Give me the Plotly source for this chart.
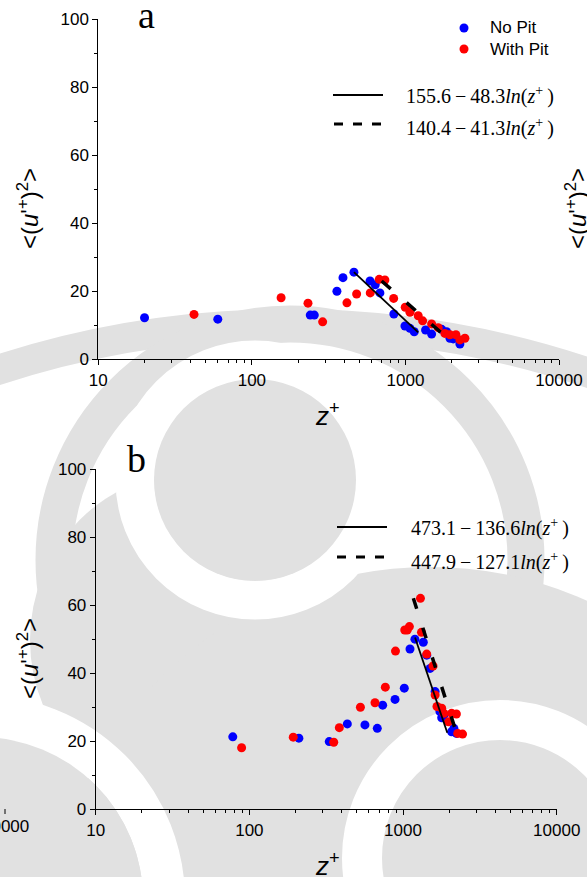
import plotly.graph_objects as go

W, H = 587, 877

# ---------------- data ----------------
a_nopit_x = [20, 60, 240, 255, 358, 392, 462, 588, 636, 682, 841, 993, 1070, 1141, 1352, 1481, 1721, 1854, 1950, 2049, 2263]
a_nopit_y = [12.2, 11.8, 13.0, 13.0, 20.0, 24.0, 25.6, 23.0, 21.9, 19.5, 13.3, 9.8, 9.1, 8.1, 8.6, 7.4, 8.8, 8.1, 6.2, 6.0, 4.5]
a_pit_x = [42, 155, 232, 289, 416, 481, 590, 675, 735, 838, 997, 1070, 1211, 1294, 1481, 1635, 1806, 1950, 2132, 2264, 2439]
a_pit_y = [13.2, 18.1, 16.5, 11.0, 16.6, 19.2, 19.5, 23.5, 23.3, 17.9, 15.3, 13.8, 12.8, 11.3, 10.4, 9.3, 7.6, 7.2, 7.2, 5.7, 6.2]

b_nopit_x = [78, 210, 331, 434, 565, 680, 737, 887, 1019, 1110, 1195, 1355, 1426, 1500, 1617, 1739, 1785, 1844, 2070, 2143, 2224]
b_nopit_y = [21.3, 20.9, 19.9, 25.1, 24.8, 23.8, 30.6, 32.3, 35.6, 47.1, 50.0, 49.1, 45.3, 41.4, 34.6, 28.7, 26.9, 27.7, 22.8, 23.8, 22.3]
b_pit_x = [89, 193, 354, 385, 528, 657, 767, 893, 1026, 1065, 1100, 1298, 1318, 1426, 1567, 1617, 1663, 1785, 1844, 1974, 2070, 2224, 2270, 2440]
b_pit_y = [18.1, 21.2, 19.7, 24.0, 30.0, 31.3, 35.9, 46.5, 52.7, 52.7, 53.7, 62.0, 52.0, 45.6, 42.1, 33.6, 30.2, 29.7, 28.2, 25.7, 28.2, 28.0, 22.3, 22.1]

# fitted lines (end points)
a_fit_solid_x = [462, 1211]
a_fit_solid_y = [25.6, 7.9]
a_fit_dash_x = [700, 1762]
a_fit_dash_y = [23.0, 7.3]
b_fit_solid_x = [1197, 1941]
b_fit_solid_y = [50.5, 22.5]
b_fit_dash_x = [1167, 2178]
b_fit_dash_y = [62.0, 23.8]

TS = "\u2009"
a_eq = ["155.6" + TS + "−" + TS + "48.3<i>ln</i>(<i>z</i><sup>+</sup>" + TS + ")",
        "140.4" + TS + "−" + TS + "41.3<i>ln</i>(<i>z</i><sup>+</sup>" + TS + ")"]
b_eq = ["473.1" + TS + "−" + TS + "136.6<i>ln</i>(<i>z</i><sup>+</sup>" + TS + ")",
        "447.9" + TS + "−" + TS + "127.1<i>ln</i>(<i>z</i><sup>+</sup>" + TS + ")"]
series_names = ["No Pit", "With Pit"]
x_tickvals = [10, 100, 1000, 10000]
x_ticktext = ["10", "100", "1000", "10000"]
y_tickvals = [0, 20, 40, 60, 80, 100]

BLUE = "#0000ff"
RED = "#ff0000"
GRAY = "#e1e1e1"


def X(px):
    return px / W


def Y(py):
    return 1 - py / H


fig = go.Figure()

mk = dict(size=9, line=dict(width=0))
fig.add_trace(go.Scatter(x=a_nopit_x, y=a_nopit_y, mode="markers", marker=dict(color=BLUE, **mk),
                         xaxis="x", yaxis="y", name=series_names[0]))
fig.add_trace(go.Scatter(x=a_pit_x, y=a_pit_y, mode="markers", marker=dict(color=RED, **mk),
                         xaxis="x", yaxis="y", name=series_names[1]))
fig.add_trace(go.Scatter(x=a_fit_solid_x, y=a_fit_solid_y, mode="lines", line=dict(color="black", width=1.8),
                         xaxis="x", yaxis="y"))
fig.add_trace(go.Scatter(x=a_fit_dash_x, y=a_fit_dash_y, mode="lines",
                         line=dict(color="black", width=3.5, dash="12px,21px"), xaxis="x", yaxis="y"))

fig.add_trace(go.Scatter(x=b_nopit_x, y=b_nopit_y, mode="markers", marker=dict(color=BLUE, **mk),
                         xaxis="x2", yaxis="y2", name=series_names[0]))
fig.add_trace(go.Scatter(x=b_pit_x, y=b_pit_y, mode="markers", marker=dict(color=RED, **mk),
                         xaxis="x2", yaxis="y2", name=series_names[1]))
fig.add_trace(go.Scatter(x=b_fit_solid_x, y=b_fit_solid_y, mode="lines", line=dict(color="black", width=1.8),
                         xaxis="x2", yaxis="y2"))
fig.add_trace(go.Scatter(x=b_fit_dash_x, y=b_fit_dash_y, mode="lines",
                         line=dict(color="black", width=3.5, dash="11px,20px"), xaxis="x2", yaxis="y2"))

tickfont = dict(family="Liberation Sans, Arial", size=17, color="black")


def xax(domain, anchor):
    return dict(type="log", range=[1, 4], domain=domain, anchor=anchor, automargin=False,
                tickmode="array", tickvals=x_tickvals, ticktext=x_ticktext,
                ticks="outside", ticklen=5, tickwidth=1, tickcolor="black",
                showline=True, linecolor="black", linewidth=1, showgrid=False, zeroline=False,
                tickfont=tickfont,
                minor=dict(ticks="outside", ticklen=3, tickwidth=1, tickcolor="black", dtick="D1", showgrid=False))


def yax(domain, anchor):
    return dict(range=[0, 100], domain=domain, anchor=anchor, automargin=False,
                tickmode="array", tickvals=y_tickvals,
                ticks="outside", ticklen=5, tickwidth=1, tickcolor="black",
                showline=True, linecolor="black", linewidth=1, showgrid=False, zeroline=False,
                tickfont=tickfont,
                minor=dict(ticks="outside", ticklen=3, tickwidth=1, tickcolor="black",
                           tickmode="linear", tick0=0, dtick=10, showgrid=False))


shapes = []


def circ(cx, cy, r, fill=None, line=None, lw=0):
    d = dict(type="circle", xref="paper", yref="paper", layer="below",
             x0=X(cx - r), x1=X(cx + r), y0=Y(cy + r), y1=Y(cy - r))
    d["fillcolor"] = fill if fill else "rgba(0,0,0,0)"
    d["line"] = dict(color=line or "rgba(0,0,0,0)", width=lw)
    shapes.append(d)


# watermark approximation (logo in the background)
circ(289, 1268, 944, line=GRAY, lw=30)
circ(290, 560, 236, line=GRAY, lw=37)
circ(200, 640, 170, fill=GRAY)
circ(430, 950, 383, fill=GRAY)
circ(255, 480, 120, line="white", lw=39)
circ(255, 480, 101, fill=GRAY)
circ(500, 858, 138, line="white", lw=40)
circ(-20, 900, 184, line="white", lw=42)
circ(-20, 900, 163, fill=GRAY)


def hline(x0, x1, y, width, dash=None):
    d = dict(type="line", xref="paper", yref="paper", x0=X(x0), x1=X(x1), y0=Y(y), y1=Y(y),
             line=dict(color="black", width=width))
    if dash:
        d["line"]["dash"] = dash
    shapes.append(d)


# legend symbols
for cy, col in [(28, BLUE), (49, RED)]:
    shapes.append(dict(type="circle", xref="paper", yref="paper", x0=X(459.5), x1=X(468.5),
                       y0=Y(cy + 4.5), y1=Y(cy - 4.5), fillcolor=col, line=dict(width=0)))
hline(333, 383, 95, 2)
hline(334, 381, 124, 3, "9px,10px")
hline(337, 387, 527, 2)
hline(337, 384, 557, 3, "9px,10px")
# partial tick of the neighbouring panel
shapes.append(dict(type="line", xref="paper", yref="paper", x0=X(5), x1=X(5), y0=Y(809), y1=Y(814),
                   line=dict(color="black", width=1)))

ann = []


def txt(px, py, s, size, family="Liberation Sans, Arial", xanchor="center", angle=0):
    ann.append(dict(x=X(px), y=Y(py), xref="paper", yref="paper", text=s, showarrow=False,
                    xanchor=xanchor, yanchor="middle", textangle=angle,
                    font=dict(family=family, size=size, color="black")))


serif = "Liberation Serif, Times New Roman"
ytitle = "&lt;(<i>u</i>'<sup>+</sup>)<sup>2</sup>&gt;"
txt(146, 15, "a", 38, serif)
txt(136, 459, "b", 38, serif)
txt(28, 209, ytitle, 24, angle=-90)
txt(28, 659, ytitle, 24, angle=-90)
txt(576, 209, ytitle, 24, angle=-90)
txt(327, 414, "<i>z</i><sup>+</sup>", 26)
txt(327, 864, "<i>z</i><sup>+</sup>", 26)
txt(488, 28, series_names[0], 17, xanchor="left")
txt(488, 49, series_names[1], 17, xanchor="left")
txt(404, 95, a_eq[0], 20, serif, xanchor="left")
txt(404, 127, a_eq[1], 20, serif, xanchor="left")
txt(409, 527, b_eq[0], 20, serif, xanchor="left")
txt(409, 561, b_eq[1], 20, serif, xanchor="left")
txt(5, 826, "10000", 17)

fig.update_layout(
    template="none",
    width=W, height=H, autosize=False,
    margin=dict(l=0, r=0, t=0, b=0, pad=0, autoexpand=False),
    paper_bgcolor="white", plot_bgcolor="rgba(0,0,0,0)",
    showlegend=False,
    xaxis=xax([X(98.3), X(559)], "y"),
    yaxis=yax([Y(359.3), Y(19)], "x"),
    xaxis2=xax([X(95.7), X(556.7)], "y2"),
    yaxis2=yax([Y(809.3), Y(469)], "x2"),
    shapes=shapes,
    annotations=ann,
)

fig.write_html("out.html")
